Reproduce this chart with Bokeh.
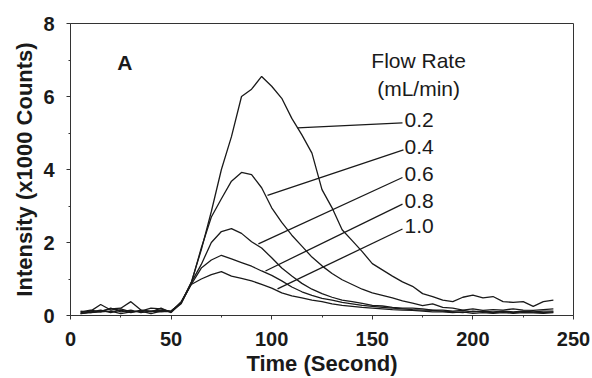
from bokeh.plotting import figure
from bokeh.models import Range1d, FixedTicker
from bokeh.core.properties import value
from bokeh.embed import file_html
from bokeh.resources import INLINE

# ---------------- data ----------------
time_s = [5, 10, 15, 20, 25, 30, 35, 40, 45, 50, 55, 60, 65, 70, 75, 80, 85, 90, 95, 100,
          105, 110, 115, 120, 125, 130, 135, 140, 145, 150, 155, 160, 165, 170, 175, 180,
          185, 190, 195, 200, 205, 210, 215, 220, 225, 230, 235, 240]

flow_02 = [0.05, 0.08, 0.12, 0.18, 0.20, 0.38, 0.15, 0.12, 0.15, 0.12, 0.35, 0.90, 1.80, 2.85,
           4.00, 4.90, 6.00, 6.20, 6.55, 6.28, 5.95, 5.40, 4.95, 4.45, 3.45, 2.95, 2.35, 2.05,
           1.75, 1.42, 1.25, 1.08, 0.92, 0.80, 0.60, 0.52, 0.42, 0.38, 0.50, 0.56, 0.48, 0.52,
           0.38, 0.36, 0.38, 0.25, 0.38, 0.42]
flow_04 = [0.08, 0.12, 0.30, 0.15, 0.18, 0.10, 0.12, 0.20, 0.18, 0.10, 0.32, 0.88, 1.85, 2.70,
           3.20, 3.68, 3.92, 3.86, 3.50, 2.95, 2.55, 2.20, 1.90, 1.60, 1.36, 1.15, 0.98, 0.85,
           0.72, 0.62, 0.55, 0.48, 0.40, 0.34, 0.27, 0.32, 0.22, 0.20, 0.15, 0.18, 0.14, 0.16,
           0.15, 0.18, 0.15, 0.14, 0.16, 0.18]
flow_06 = [0.10, 0.15, 0.10, 0.20, 0.10, 0.15, 0.08, 0.12, 0.10, 0.12, 0.35, 0.90, 1.40, 2.00,
           2.30, 2.38, 2.25, 2.02, 1.85, 1.58, 1.30, 1.08, 0.88, 0.72, 0.60, 0.50, 0.42, 0.38,
           0.33, 0.28, 0.26, 0.22, 0.20, 0.20, 0.18, 0.15, 0.15, 0.12, 0.14, 0.10, 0.12, 0.10,
           0.12, 0.10, 0.12, 0.10, 0.12, 0.12]
flow_08 = [0.05, 0.10, 0.15, 0.08, 0.15, 0.08, 0.15, 0.10, 0.20, 0.08, 0.35, 0.85, 1.30, 1.52,
           1.65, 1.55, 1.45, 1.35, 1.22, 1.10, 0.95, 0.78, 0.65, 0.55, 0.47, 0.42, 0.36, 0.32,
           0.28, 0.25, 0.22, 0.20, 0.18, 0.16, 0.15, 0.14, 0.12, 0.10, 0.08, 0.12, 0.10, 0.08,
           0.10, 0.08, 0.10, 0.09, 0.08, 0.10]
flow_10 = [0.12, 0.08, 0.10, 0.12, 0.05, 0.10, 0.12, 0.05, 0.12, 0.10, 0.38, 0.85, 1.00, 1.12,
           1.20, 1.08, 1.02, 0.95, 0.85, 0.75, 0.62, 0.54, 0.48, 0.42, 0.38, 0.32, 0.28, 0.25,
           0.22, 0.20, 0.18, 0.16, 0.15, 0.14, 0.12, 0.10, 0.10, 0.08, 0.10, 0.06, 0.08, 0.06,
           0.08, 0.06, 0.08, 0.07, 0.06, 0.08]

series = [flow_02, flow_04, flow_06, flow_08, flow_10]
flow_labels = ["0.2", "0.4", "0.6", "0.8", "1.0"]

x_ticks = [0, 50, 100, 150, 200, 250]
y_ticks = [0, 2, 4, 6, 8]

# annotation placement (leader lines from curves to labels)
leader_x0 = [112.8, 97.9, 93.4, 96.9, 102.9]
leader_y0 = [5.14, 3.29, 1.96, 1.22, 0.73]
leader_x1 = [165.0, 165.5, 165.0, 165.0, 165.0]
leader_y1 = [5.28, 4.54, 3.78, 3.05, 2.37]
label_x = [166.0] * 5
label_y = [5.36, 4.61, 3.88, 3.14, 2.46]

FONT = "Liberation Sans"
INK = "#1a1a1a"

p = figure(width=592, height=378, output_backend="svg", toolbar_location=None,
           x_range=Range1d(0, 250), y_range=Range1d(0, 8),
           min_border_left=70, min_border_right=19, min_border_top=23, min_border_bottom=61,
           background_fill_color="white", border_fill_color="white")

p.grid.visible = False
p.outline_line_color = "#333333"
p.outline_line_width = 1

for ax, ticks in ((p.xaxis[0], x_ticks), (p.yaxis[0], y_ticks)):
    ax.ticker = FixedTicker(ticks=ticks,
                            minor_ticks=[t + (ticks[1] - ticks[0]) / 2 for t in ticks[:-1]])
    ax.axis_line_color = "#333333"
    ax.major_tick_line_color = "#333333"
    ax.minor_tick_line_color = "#333333"
    ax.major_tick_out = 4
    ax.major_tick_in = 0
    ax.minor_tick_out = 2
    ax.minor_tick_in = 0
    ax.major_label_text_font = FONT
    ax.major_label_text_font_size = "20px"
    ax.major_label_text_font_style = "bold"
    ax.major_label_text_color = INK
    ax.axis_label_text_font = FONT
    ax.axis_label_text_font_size = "22px"
    ax.axis_label_text_font_style = "bold"
    ax.axis_label_text_color = INK

p.xaxis.axis_label = "Time (Second)"
p.yaxis.axis_label = "Intensity (x1000 Counts)"
p.xaxis.major_label_standoff = 12
p.xaxis.axis_label_standoff = 2
p.yaxis.major_label_standoff = 12
p.yaxis.axis_label_standoff = 3

for ys in series:
    p.line(time_s, ys, line_color=INK, line_width=1.3)

p.segment(x0=leader_x0, y0=leader_y0, x1=leader_x1, y1=leader_y1,
          line_color=INK, line_width=1.3)

p.text(x=label_x, y=label_y, text=flow_labels, text_font=value(FONT),
       text_font_size="21px", text_align="left", text_baseline="middle", text_color=INK)

p.text(x=[173, 173], y=[7.0, 6.23], text=["Flow Rate", "(mL/min)"], text_font=value(FONT),
       text_font_size="21px", text_align="center", text_baseline="middle", text_color=INK)

p.text(x=[27], y=[6.94], text=["A"], text_font=value(FONT), text_font_style="bold",
       text_font_size="21px", text_align="center", text_baseline="middle", text_color=INK)

open("out.html", "w").write(file_html(p, INLINE))
